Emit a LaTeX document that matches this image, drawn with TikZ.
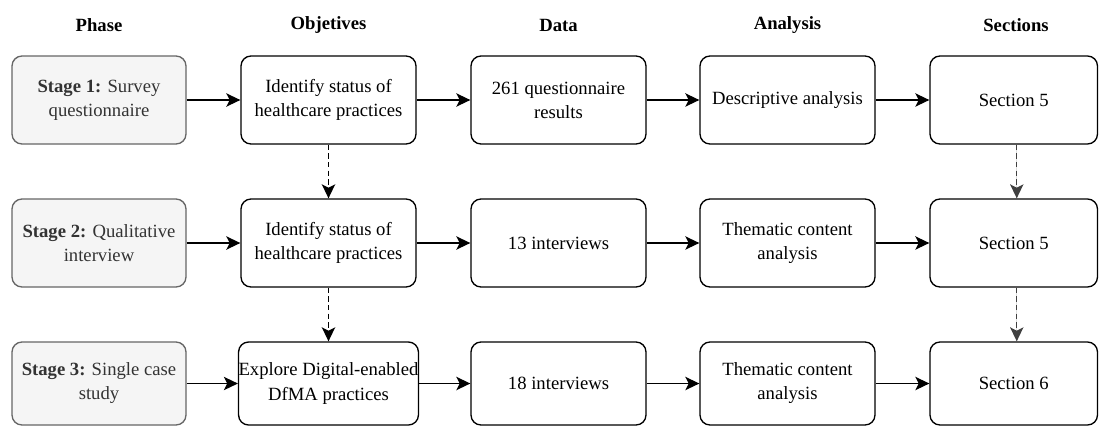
\documentclass[tikz,border=0pt]{standalone}
\usepackage{fontspec}
\setmainfont{Liberation Serif}
\usetikzlibrary{arrows.meta}
\definecolor{phasefill}{HTML}{F5F5F5}
\definecolor{phasedraw}{HTML}{666666}
\definecolor{phasetext}{HTML}{333333}
\tikzset{
  box/.style={draw=black, line width=1pt, rounded corners=7.5pt, fill=white,
    minimum width=175*0.75pt, minimum height=88*0.75pt, align=center,
    inner sep=0pt, font=\fontsize{14}{18}\selectfont},
  phasebox/.style={box, fill=phasefill, draw=phasedraw, text=phasetext, minimum width=174*0.75pt},
  secbox/.style={box, minimum width=167.5*0.75pt},
  lastrow/.style={minimum height=83*0.75pt},
  head/.style={font=\fontsize{14}{18}\selectfont\bfseries, inner sep=0pt},
  arr/.style={-{Stealth[length=10.5pt,width=10pt,inset=2.5pt]}, line width=1pt},
  darr/.style={arr, dash pattern=on 4pt off 2.5pt},
}
\begin{document}
\begin{tikzpicture}[x=0.75pt,y=-0.75pt]
\useasboundingbox (0,0) rectangle (1099,426);
% headers
\node[head] (h1) at (99,25) {Phase};
\node[head] (h2) at (328.5,25) {Objetives};
\node[head] (h3) at (558.5,25) {Data};
\node[head] (h4) at (787.5,25) {Analysis};
\node[head] (h5) at (1016,25) {Sections};
% row 1
\node[phasebox] (p1) at (99,100) {\textbf{Stage 1:} Survey\\questionnaire};
\node[box] (o1) at (328.5,100) {Identify status of\\healthcare practices};
\node[box] (d1) at (558.5,100) {261 questionnaire\\results};
\node[box] (a1) at (787.5,100) {Descriptive analysis};
\node[secbox] (s1) at (1013.75,100) {Section 5};
% row 2
\node[phasebox] (p2) at (99,243) {\textbf{Stage 2:} Qualitative\\interview};
\node[box] (o2) at (328.5,243) {Identify status of\\healthcare practices};
\node[box] (d2) at (558.5,243) {13 interviews};
\node[box] (a2) at (787.5,243) {Thematic content\\analysis};
\node[secbox] (s2) at (1013.75,243) {Section 5};
% row 3
\node[phasebox,lastrow] (p3) at (99,383.5) {\textbf{Stage 3:} Single case\\study};
\node[box,lastrow] (o3) at (328.5,383.5) {Explore Digital-enabled\\DfMA practices};
\node[box,lastrow] (d3) at (558.5,383.5) {18 interviews};
\node[box,lastrow] (a3) at (787.5,383.5) {Thematic content\\analysis};
\node[secbox,lastrow] (s3) at (1013.75,383.5) {Section 6};
% horizontal arrows
\foreach \r in {1,2,3}{
  \draw[arr] (p\r.east) -- (o\r.west);
  \draw[arr] (o\r.east) -- (d\r.west);
  \draw[arr] (d\r.east) -- (a\r.west);
  \draw[arr] (a\r.east) -- (s\r.west);
}
% dashed vertical arrows
\draw[darr] (o1.south) -- (o2.north);
\draw[darr] (o2.south) -- (o3.north);
\draw[darr, draw=black!75, fill=black] ([xshift=2.25pt]s1.south) -- ([xshift=2.25pt]s2.north);
\draw[darr, draw=black!75, fill=black] ([xshift=2.25pt]s2.south) -- ([xshift=2.25pt]s3.north);
\end{tikzpicture}
\end{document}
